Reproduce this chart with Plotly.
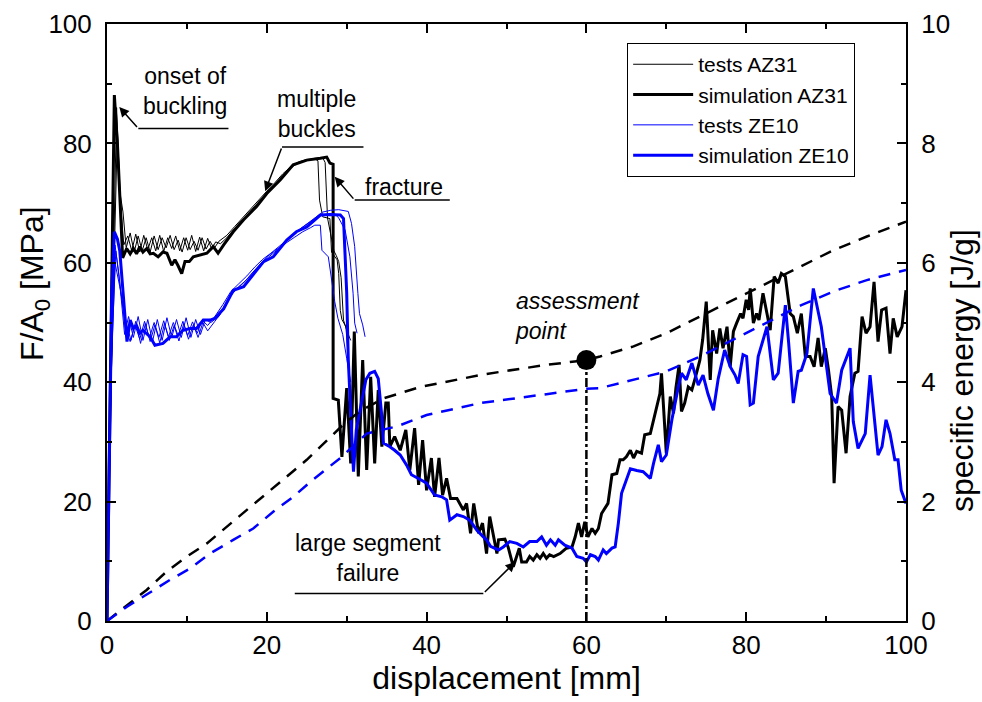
import plotly.graph_objects as go

# ---------------- data ----------------
sim_az31 = [(0, 0), (0.3, 30), (0.6, 65), (0.92, 88.1), (1.3, 80), (1.7, 68), (1.96, 60.8), (2.46, 62.4),
            (2.9, 61.5), (3.3, 62.4), (3.7, 61.5), (4.1, 62.7), (4.5, 61.8), (4.97, 62.4), (5.4, 61.5),
            (5.8, 61.6), (6.4, 61.0), (7.0, 61.8), (7.5, 61.6), (8.1, 59.6), (8.5, 60.5), (8.9, 59.5),
            (9.35, 58.2), (9.76, 60.2), (10.3, 60.2), (10.8, 61.0), (11.6, 61.3), (12.5, 61.6), (13.3, 62.7),
            (13.9, 61.6), (14.6, 63.0), (15.8, 65.2), (17.1, 67.2), (18.7, 69.4), (20.0, 71.6), (21.7, 73.9),
            (23.3, 76.4), (25.0, 77.2), (26.7, 77.5), (27.5, 77.7), (27.9, 76.7), (28.3, 76.5), (28.3, 37.3),
            (28.95, 37.0), (29.4, 27.5), (30.0, 39.0), (30.5, 26.4), (30.95, 48.5), (31.45, 24.2), (32.0, 43.7),
            (32.5, 25.3), (33.0, 40.9), (33.5, 26.4), (33.95, 38.7), (34.4, 29.2), (34.9, 36.5), (35.2, 36.5),
            (35.4, 29.2), (36.0, 30.9), (36.7, 28.6), (37.4, 32.0), (37.9, 25.3), (38.5, 32.3), (39.0, 22.8),
            (39.5, 30.3), (40.0, 21.9), (40.6, 27.3), (41.0, 20.8), (41.55, 27.3), (42.0, 21.1), (42.5, 23.9),
            (43.0, 20.5), (43.8, 20.5), (44.6, 18.6), (45.0, 19.7), (45.5, 14.7), (45.9, 19.7), (46.5, 14.7),
            (47.0, 16.4), (47.5, 11.3), (47.9, 17.5), (48.35, 14.1), (48.8, 11.3), (49.0, 13.6), (49.8, 13.7),
            (50.2, 12.4), (50.85, 9.1), (51.6, 12.2), (51.9, 9.9), (52.5, 9.9), (52.9, 10.8), (53.35, 10.2),
            (53.8, 11.1), (54.2, 10.5), (54.6, 11.3), (55.0, 10.5), (55.4, 11.1), (55.9, 10.8), (56.7, 11.3),
            (57.5, 12.2), (58.2, 12.4), (58.6, 14.1), (59.0, 16.4), (59.4, 14.1), (59.8, 16.6), (60.2, 14.1),
            (60.7, 15.5), (61.1, 14.7), (61.5, 15.5), (61.9, 18.0), (62.7, 19.7), (63.2, 24.5), (63.8, 24.7),
            (64.2, 27.0), (64.6, 27.0), (65.0, 27.5), (65.5, 28.6), (65.9, 27.3), (66.3, 28.4), (66.9, 28.1),
            (67.3, 31.2), (68.0, 31.4), (68.4, 33.7), (68.8, 35.9), (69.2, 38.1), (69.4, 41.5), (69.6, 37.0),
            (70.0, 28.1), (70.5, 37.6), (70.9, 34.8), (71.2, 39.0), (71.6, 42.9), (71.9, 35.1), (72.3, 36.5),
            (72.75, 39.2), (73.2, 38.7), (73.6, 40.6), (74.2, 43.7), (74.55, 47.1), (75.0, 53.5), (75.5, 40.4),
            (75.8, 48.7), (76.3, 44.8), (76.7, 49.0), (77.1, 45.7), (77.6, 49.3), (78.0, 42.6), (78.4, 48.5),
            (78.8, 49.9), (79.3, 51.5), (79.6, 50.7), (80.0, 53.8), (80.3, 52.1), (80.5, 55.7), (80.9, 49.9),
            (81.3, 51.5), (81.6, 50.4), (82.1, 54.9), (82.6, 51.5), (83.0, 48.7), (83.5, 57.7), (84.0, 56.6),
            (84.4, 58.2), (84.9, 57.7), (85.5, 51.5), (85.9, 51.0), (86.4, 48.2), (86.9, 51.5), (87.4, 44.3),
            (88.0, 44.3), (88.5, 42.6), (89.0, 47.4), (89.4, 42.6), (89.9, 45.7), (90.3, 42.0), (90.7, 37.6),
            (91.0, 23.1), (91.5, 35.9), (91.95, 35.3), (92.5, 28.1), (93.0, 37.6), (93.6, 41.5), (94.0, 41.8),
            (94.5, 51.0), (95.0, 48.2), (95.5, 49.3), (96.0, 56.8), (96.5, 46.8), (96.95, 52.1), (97.5, 52.4),
            (98.0, 44.8), (98.4, 50.7), (98.9, 47.6), (99.5, 49.3), (100, 55.4)]

sim_ze10 = [(0, 0), (0.3, 30), (0.6, 55), (0.92, 65.2), (1.3, 64), (1.6, 62), (2.0, 55), (2.5, 46.8),
            (2.9, 50.4), (3.3, 49.0), (3.7, 49.5), (4.1, 48.2), (4.5, 48.7), (5.4, 47.6), (6.0, 46.2),
            (7.0, 46.5), (7.9, 47.6), (8.7, 47.6), (9.5, 48.7), (10.4, 49.0), (11.2, 49.0), (12.05, 50.4),
            (12.9, 50.4), (13.5, 50.7), (14.6, 52.3), (15.8, 55.4), (17.1, 56.0), (18.3, 58.0), (19.6, 60.2),
            (20.8, 61.0), (22.5, 63.8), (23.7, 65.2), (25.0, 66.0), (26.7, 68.0), (27.9, 68.1), (29.2, 68.0),
            (29.6, 67.4), (30.0, 55.0), (30.2, 43.7), (30.5, 35.0), (30.85, 25.0), (31.2, 32.0), (31.7, 35.3),
            (32.4, 40.4), (32.9, 41.5), (33.5, 41.8), (33.95, 40.6), (34.2, 37.6), (34.4, 34.2), (34.6, 29.8),
            (35.4, 29.2), (36.0, 28.6), (36.7, 27.8), (37.5, 26.1), (38.1, 24.5), (39.2, 23.7), (40.0, 23.1),
            (41.0, 21.1), (41.9, 20.8), (42.5, 20.3), (42.9, 16.9), (43.8, 17.8), (44.6, 17.5), (45.4, 16.9),
            (46.3, 15.2), (47.1, 14.1), (47.5, 13.6), (48.0, 12.5), (49.0, 11.9), (49.6, 12.4), (50.4, 13.3),
            (51.3, 13.0), (52.1, 12.4), (52.9, 13.3), (53.8, 13.3), (54.4, 14.1), (55.0, 12.7), (55.5, 13.6),
            (56.1, 12.7), (56.5, 13.6), (57.3, 12.7), (58.2, 12.2), (58.8, 10.8), (59.6, 10.5), (60.0, 9.9),
            (60.5, 11.1), (61.1, 10.8), (61.5, 10.2), (62.1, 11.9), (62.5, 11.3), (63.2, 12.2), (63.6, 12.4),
            (64.0, 16.4), (64.4, 21.4), (65.0, 23.6), (65.5, 25.5), (66.3, 25.2), (67.1, 25.0), (68.0, 23.9),
            (68.4, 26.4), (69.0, 29.5), (69.4, 26.7), (70.0, 27.8), (70.7, 33.7), (71.5, 39.2), (71.9, 41.5),
            (72.5, 40.4), (73.2, 43.2), (74.0, 39.5), (74.6, 41.2), (75.2, 38.1), (75.9, 35.3), (76.5, 40.6),
            (77.3, 45.4), (78.0, 42.6), (78.6, 41.2), (79.0, 39.8), (79.6, 44.6), (80.05, 44.3), (80.5, 36.2),
            (80.9, 36.5), (81.5, 44.3), (82.6, 49.3), (83.4, 40.4), (84.0, 41.5), (84.9, 52.9), (85.3, 46.8),
            (85.9, 36.5), (86.5, 41.8), (86.9, 42.0), (87.6, 44.8), (88.4, 55.7), (89.4, 49.3), (90.5, 38.1),
            (91.3, 36.5), (91.95, 42.0), (93.0, 45.7), (93.4, 33.4), (94.0, 28.9), (94.9, 31.4), (95.5, 41.2),
            (96.5, 27.8), (97.0, 29.2), (97.5, 33.7), (98.0, 31.4), (98.6, 27.0), (99.0, 27.0), (99.4, 21.9),
            (100, 19.7)]

tests_az31_a = [(0, 0), (0.5, 40), (1.2, 86), (1.6, 72), (2.0, 68.5), (2.4, 62.5), (2.9, 65), (3.4, 61.8),
                (3.9, 64.5), (4.4, 62), (4.9, 64.2), (5.4, 61.8), (5.9, 64.5), (6.4, 62.2), (6.9, 64.2),
                (7.4, 62.5), (7.9, 64.6), (8.4, 62.2), (8.9, 63.8), (9.4, 61.8), (9.9, 64.2), (10.4, 62.2),
                (10.9, 63.6), (11.4, 62.1), (11.9, 64.2), (12.4, 62.3), (12.9, 63.6), (13.4, 62.4), (14.0, 63.6),
                (15, 64.6), (16, 66.1), (17, 67.6), (18, 69.0), (19, 70.5), (20, 72.0), (21, 73.4), (22, 74.9),
                (23, 76.1), (24, 76.9), (25, 77.3), (26.0, 77.4), (26.4, 77.1), (26.6, 70.5), (27.0, 67.7),
                (27.9, 67.4), (28.1, 61.8), (28.8, 60.5), (29.0, 58.2), (29.2, 52.0), (29.4, 50.5), (29.9, 49.3),
                (30.2, 44.0)]
tests_az31_b = [(0, 0), (0.6, 45), (1.3, 82), (1.7, 70), (2.1, 63), (2.6, 64.5), (3.1, 62), (3.6, 64.8),
                (4.1, 61.8), (4.6, 64.6), (5.1, 62.2), (5.6, 64.2), (6.1, 62), (6.6, 64.6), (7.1, 61.9),
                (7.6, 64.2), (8.1, 62.4), (8.6, 64.5), (9.1, 62), (9.6, 64.2), (10.1, 62.1), (10.6, 64.6),
                (11.1, 61.9), (11.6, 64.3), (12.1, 62), (12.6, 64.1), (13.1, 62.3), (13.6, 63.5), (14.2, 63.2),
                (15, 64.2), (16, 65.8), (17, 67.3), (18, 68.8), (19, 70.2), (20, 71.7), (21, 73.2), (22, 74.6),
                (23, 75.9), (24, 76.8), (25, 77.2), (26, 77.5), (27.0, 77.6), (27.3, 76.8), (27.6, 67.5),
                (28.4, 62.0), (28.7, 61.2), (29.0, 60.2), (29.3, 57.5), (29.6, 50.4), (30.0, 48.7), (30.5, 47.0)]

tests_ze10_a = [(0, 0), (0.5, 45), (1.0, 63), (1.5, 58), (2.2, 48), (2.7, 51), (3.3, 47.5), (3.9, 51),
                (4.5, 47), (5.1, 50.5), (5.7, 46.8), (6.3, 50.5), (6.9, 47), (7.5, 50.8), (8.1, 47.5),
                (8.7, 50.5), (9.3, 47.5), (9.9, 50.8), (10.5, 47.5), (11.1, 50.5), (11.7, 48), (12.3, 50.5),
                (13, 50), (14, 51), (15, 53.5), (16, 55.5), (17, 56.5), (18, 58), (19, 59.5), (20, 61), (21, 62),
                (22, 63), (23, 64.5), (24, 65.5), (25, 66.5), (26, 67.5), (27, 68.5), (28, 68.8), (29, 68.9),
                (30.2, 68.6), (30.6, 66.6), (31.0, 62.7), (31.2, 57.7), (31.4, 54.9), (31.6, 51.5), (32.0, 49.6),
                (32.3, 47.6)]
tests_ze10_b = [(0, 0), (0.5, 40), (1.0, 60), (1.6, 56), (2.4, 50), (3.0, 47), (3.6, 50.2), (4.2, 46.5),
                (4.8, 49.8), (5.4, 46.8), (6.0, 49.6), (6.6, 46.6), (7.2, 49.8), (7.8, 47), (8.4, 49.5),
                (9.0, 46.9), (9.6, 49.8), (10.2, 47.2), (10.8, 49.6), (11.4, 47.5), (12.0, 50), (12.6, 48.6),
                (13.5, 50.2), (14.5, 52), (15.5, 54.5), (16.5, 56), (17.5, 57.2), (18.5, 58.8), (19.5, 60.2),
                (20.5, 61.3), (21.5, 62.3), (22.5, 63.4), (23.5, 64.3), (24.5, 65.2), (25.5, 65.9), (26.0, 66.3),
                (26.7, 66.3), (26.9, 62.1), (27.7, 61.0), (28.0, 58.2), (28.5, 53.5), (28.9, 50.7), (29.5, 48.0),
                (30.0, 44.0), (30.5, 40.0)]
tests_ze10_c = [(0, 0), (0.5, 42), (1.1, 62), (1.7, 55), (2.3, 49), (2.9, 46.8), (3.5, 49.6), (4.1, 47.2),
                (4.7, 50.2), (5.3, 47.4), (5.9, 50), (6.5, 47.5), (7.1, 50.3), (7.7, 47.6), (8.3, 50),
                (8.9, 47.8), (9.5, 50.2), (10.1, 47.8), (10.7, 50.1), (11.3, 48.2), (11.9, 50.4), (12.6, 49.5),
                (13.5, 51), (14.5, 53), (15.5, 55.2), (16.5, 56.5), (17.5, 57.8), (18.5, 59.3), (19.5, 60.6),
                (20.5, 61.6), (21.5, 62.7), (22.5, 63.9), (23.5, 65), (24.5, 66), (25.5, 66.9), (26.5, 67.8),
                (27.5, 68.1), (28.5, 68.2), (29.0, 67.5), (29.8, 65.5), (30.4, 61.0), (30.6, 57.7), (30.8, 54.9),
                (31.0, 49.9), (31.3, 48.2)]

energy_az31 = [(0, 0), (2.25, 0.24), (4.96, 0.52), (7.47, 0.83), (10, 1.08), (12.5, 1.3), (15, 1.58),
               (17.5, 1.86), (20, 2.14), (22.5, 2.42), (25, 2.7), (27.5, 3.02), (29.5, 3.28), (31.5, 3.5),
               (34.6, 3.73), (39.2, 3.92), (46.7, 4.12), (50, 4.19), (55, 4.29), (60, 4.37), (61.7, 4.43),
               (65.9, 4.6), (70, 4.82), (74.2, 5.1), (78.4, 5.38), (82.6, 5.65), (85.1, 5.82), (90.9, 6.21),
               (95.1, 6.44), (100, 6.69)]
energy_ze10 = [(0, 0), (2.5, 0.24), (5.17, 0.46), (7.9, 0.69), (10.4, 0.88), (12.9, 1.13), (15.8, 1.36),
               (18.3, 1.55), (20.8, 1.83), (23.3, 2.08), (25.8, 2.37), (28.3, 2.64), (29.2, 2.73), (32.5, 3.14),
               (36.3, 3.26), (40, 3.45), (46.7, 3.65), (55, 3.8), (60, 3.89), (61.7, 3.9), (65.9, 4.04),
               (70, 4.18), (74.2, 4.43), (78.4, 4.71), (82.6, 4.99), (86.9, 5.29), (90.9, 5.52), (95.1, 5.71),
               (100, 5.88)]

assess_x = [60]
assess_e = [4.37]

x_ticks = [0, 20, 40, 60, 80, 100]
y_ticks = [0, 20, 40, 60, 80, 100]
e_ticks = [0, 2, 4, 6, 8, 10]

FONT = "Liberation Sans, Arial, sans-serif"
BLUE = "#0000ff"


def xs(pts):
    return [p[0] for p in pts]


def ys(pts):
    return [p[1] for p in pts]


fig = go.Figure()

# energy curves (right axis)
fig.add_trace(go.Scatter(x=xs(energy_az31), y=ys(energy_az31), yaxis="y2", mode="lines",
                         line=dict(color="black", width=2.5, dash="12px,9px"), showlegend=False))
fig.add_trace(go.Scatter(x=xs(energy_ze10), y=ys(energy_ze10), yaxis="y2", mode="lines",
                         line=dict(color=BLUE, width=2.5, dash="12px,9px"), showlegend=False))

# tests
fig.add_trace(go.Scatter(x=xs(tests_az31_a), y=ys(tests_az31_a), mode="lines", name="tests AZ31",
                         legendgroup="taz", line=dict(color="black", width=1)))
fig.add_trace(go.Scatter(x=xs(tests_az31_b), y=ys(tests_az31_b), mode="lines", name="tests AZ31",
                         legendgroup="taz", showlegend=False, line=dict(color="black", width=1)))
# simulation AZ31
fig.add_trace(go.Scatter(x=xs(sim_az31), y=ys(sim_az31), mode="lines", name="simulation AZ31",
                         line=dict(color="black", width=3)))
for i, tz in enumerate([tests_ze10_a, tests_ze10_b, tests_ze10_c]):
    fig.add_trace(go.Scatter(x=xs(tz), y=ys(tz), mode="lines", name="tests ZE10", legendgroup="tze",
                             showlegend=(i == 0), line=dict(color=BLUE, width=1)))
fig.add_trace(go.Scatter(x=xs(sim_ze10), y=ys(sim_ze10), mode="lines", name="simulation ZE10",
                         line=dict(color=BLUE, width=3)))

# assessment point
fig.add_trace(go.Scatter(x=assess_x * 2, y=[0, assess_e[0]], yaxis="y2", mode="lines",
                         line=dict(color="black", width=2.5, dash="dashdot"), showlegend=False))
fig.add_trace(go.Scatter(x=assess_x, y=assess_e, yaxis="y2", mode="markers",
                         marker=dict(color="black", size=20), showlegend=False))

# leader lines (horizontal) and arrows
leaders = [
    # (x0, x1, y)
    (3.92, 15.2, 82.5),
    (21.9, 32.1, 79.4),
    (31.0, 42.9, 70.5),
    (23.5, 47.1, 4.6),
]
for x0, x1, yv in leaders:
    fig.add_shape(type="line", xref="x", yref="y", x0=x0, x1=x1, y0=yv, y1=yv,
                  line=dict(color="black", width=1.5))

arrows = [
    # (tip_x, tip_y, tail_x, tail_y)
    (1.54, 86.1, 3.92, 82.5),
    (19.8, 72.0, 21.9, 79.4),
    (28.5, 74.4, 31.0, 70.5),
    (51.1, 9.9, 47.1, 4.6),
]
for tx, ty, ax, ay in arrows:
    fig.add_annotation(x=tx, y=ty, ax=ax, ay=ay, xref="x", yref="y", axref="x", ayref="y",
                       text="", showarrow=True, arrowhead=2, arrowsize=1.3, arrowwidth=1.5,
                       arrowcolor="black")

labels = [
    (9.76, 88.8, "onset of<br>buckling"),
    (26.2, 84.9, "multiple<br>buckles"),
    (37.2, 72.7, "fracture"),
    (32.7, 10.6, "large segment<br>failure"),
]
for lx, ly, txt in labels:
    fig.add_annotation(x=lx, y=ly, xref="x", yref="y", text=txt, showarrow=False, align="center",
                       font=dict(family=FONT, size=23, color="black"))
fig.add_annotation(x=50.8, y=51.1, xref="x", yref="y", text="<i>assessment<br>point</i>",
                   showarrow=False, align="left", xanchor="left",
                   font=dict(family=FONT, size=23, color="black"))

# axis titles placed as rotated annotations (positions match the reference)
fig.add_annotation(x=-0.09, y=0.5645, xref="paper", yref="paper", text="F/A<sub>0</sub> [MPa]",
                   textangle=-90, showarrow=False, xanchor="center", yanchor="middle",
                   font=dict(family=FONT, size=32, color="black"))
fig.add_annotation(x=1.0701, y=0.4188, xref="paper", yref="paper", text="specific energy [J/g]",
                   textangle=-90, showarrow=False, xanchor="center", yanchor="middle",
                   font=dict(family=FONT, size=32, color="black"))

axis_common = dict(showline=True, linecolor="black", linewidth=2, ticks="inside", ticklen=9,
                   tickwidth=2, tickcolor="black", showgrid=False, zeroline=False,
                   tickfont=dict(family=FONT, size=26, color="black"))

fig.update_layout(
    width=982, height=702,
    margin=dict(l=107, r=76, t=24, b=81, autoexpand=False),
    paper_bgcolor="white", plot_bgcolor="white",
    font=dict(family=FONT, color="black"),
    xaxis=dict(range=[0, 100], tickvals=x_ticks, mirror="ticks",
               minor=dict(dtick=10, ticks="inside", ticklen=5, tickwidth=2, tickcolor="black"),
               title=dict(text="displacement [mm]", font=dict(family=FONT, size=32), standoff=5),
               **axis_common),
    yaxis=dict(range=[0, 100], tickvals=y_ticks,
               minor=dict(dtick=10, ticks="inside", ticklen=5, tickwidth=2, tickcolor="black"),
               ticklabelstandoff=8,
               **axis_common),
    yaxis2=dict(range=[0, 10], tickvals=e_ticks, overlaying="y", side="right",
                minor=dict(dtick=1, ticks="inside", ticklen=5, tickwidth=2, tickcolor="black"),
                ticklabelstandoff=8,
                **axis_common),
    legend=dict(x=0.651, y=0.968, xanchor="left", yanchor="top", bgcolor="white",
                bordercolor="black", borderwidth=1, font=dict(family=FONT, size=21),
                tracegroupgap=0, itemwidth=60),
    showlegend=True,
)

fig.write_html("out.html")
